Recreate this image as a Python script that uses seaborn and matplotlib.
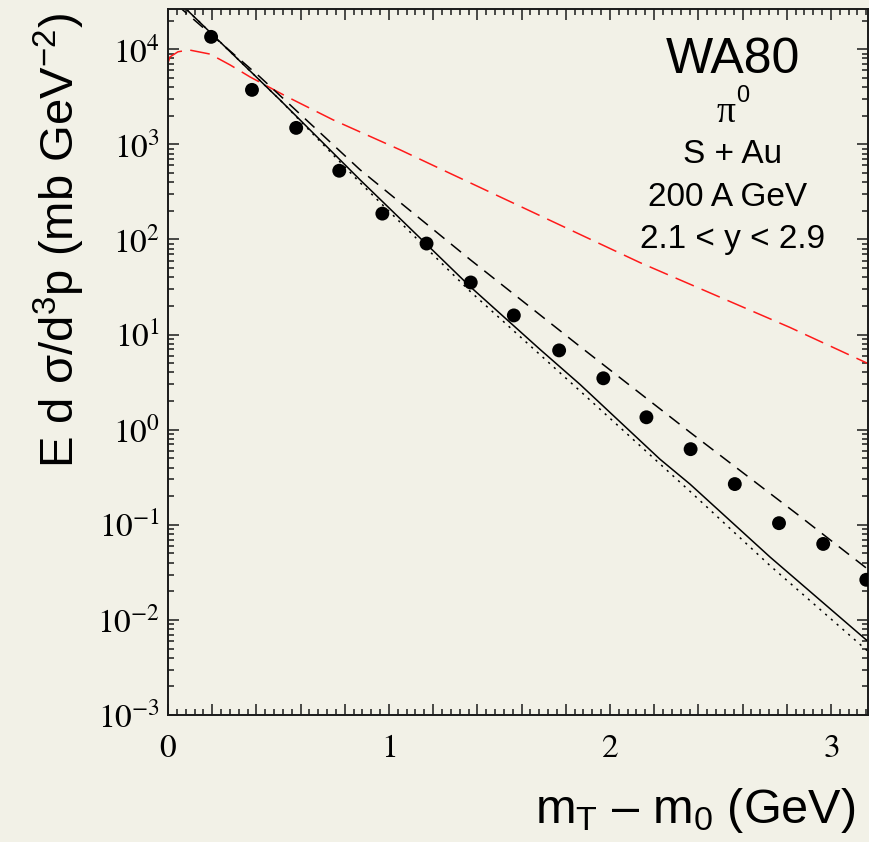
import numpy as np
import pandas as pd
import matplotlib
matplotlib.use("Agg")
import matplotlib.pyplot as plt
import seaborn as sns
from matplotlib.ticker import MultipleLocator, LogLocator, FuncFormatter

# ---- data ----
pt_x = [0.195, 0.38, 0.58, 0.775, 0.97, 1.17, 1.37, 1.565, 1.77, 1.97,
        2.165, 2.365, 2.565, 2.765, 2.965, 3.16]
pt_y = [1.35e4, 3.74e3, 1.49e3, 528, 187, 90.6, 35.3, 15.9, 6.82, 3.47,
        1.35, 0.624, 0.268, 0.104, 0.0629, 0.0264]

solid_x = [0.063, 0.507, 0.869, 1.14, 1.367, 1.683, 1.864, 2.226, 2.362, 2.724, 3.154, 3.18]
solid_y = [2.92e4, 2930, 424, 104, 32.0, 7.0, 3.0, 0.49, 0.268, 0.0459, 0.00633, 0.0057]

dashed_x = [0.041, 0.416, 0.869, 1.367, 1.864, 2.362, 2.846, 3.154, 3.18]
dashed_y = [2.92e4, 5120, 541, 61.5, 7.5, 0.94, 0.13, 0.036, 0.032]

dotted_x = [0.063, 0.507, 0.869, 1.367, 1.864, 2.362, 2.724, 3.154, 3.18]
dotted_y = [2.92e4, 2930, 396, 28.5, 2.56, 0.225, 0.0373, 0.00498, 0.0044]

red_x = [0.0, 0.009, 0.045, 0.095, 0.19, 0.281, 0.371, 0.537, 0.747, 1.05, 1.222,
         2.136, 2.814, 3.154, 3.18]
red_y = [7180, 8300, 9400, 9840, 8900, 6840, 5120, 3180, 1810, 877, 568,
         57.1, 11.9, 5.13, 4.8]

info_lines = ["S + Au", "200 A GeV", "2.1 < y < 2.9"]

# ---- style ----
sns.set_theme(style="ticks")
bg = "#f2f1e7"
plt.rcParams.update({
    "font.family": ["Liberation Sans", "DejaVu Sans"],
    "mathtext.fontset": "stix",
    "mathtext.rm": "Liberation Sans",
    "mathtext.it": "Liberation Sans:italic",
    "mathtext.bf": "Liberation Sans:bold",
    "figure.facecolor": bg,
    "axes.facecolor": bg,
    "savefig.facecolor": bg,
    "axes.edgecolor": "#1a1a1a",
    "axes.linewidth": 1.4,
    "text.color": "black",
    "axes.labelcolor": "black",
    "xtick.color": "#1a1a1a",
    "ytick.color": "#1a1a1a",
    "xtick.labelcolor": "black",
    "ytick.labelcolor": "black",
})

fig = plt.figure(figsize=(8.69, 8.42), dpi=100)
ax = fig.add_axes([168 / 869, 1 - 715 / 842, (868.5 - 168) / 869, (715 - 9) / 842])
ax.set_yscale("log")

lw = 1.1
sns.lineplot(x=red_x, y=red_y, ax=ax, color="#ff1a1a", lw=lw, sort=False,
             estimator=None, linestyle=(0, (13, 5.5)))
sns.lineplot(x=dotted_x, y=dotted_y, ax=ax, color="black", lw=lw, sort=False,
             estimator=None, linestyle=(0, (1.4, 3.6)))
sns.lineplot(x=dashed_x, y=dashed_y, ax=ax, color="black", lw=lw, sort=False,
             estimator=None, linestyle=(0, (8.5, 5.5)))
sns.lineplot(x=solid_x, y=solid_y, ax=ax, color="black", lw=lw, sort=False,
             estimator=None, linestyle="-")
sns.scatterplot(x=pt_x, y=pt_y, ax=ax, s=100, color="black", edgecolor="none",
                zorder=5)

ax.set_xlim(0, 3.17)
ax.set_ylim(1e-3, 2.65e4)

ax.xaxis.set_major_locator(MultipleLocator(0.2))
ax.xaxis.set_minor_locator(MultipleLocator(0.04))
ax.xaxis.set_major_formatter(FuncFormatter(
    lambda v, p: r"$%d$" % int(round(v)) if abs(v - round(v)) < 1e-6 else ""))
ax.yaxis.set_major_locator(LogLocator(base=10, numticks=20))
ax.yaxis.set_minor_locator(LogLocator(base=10, subs=np.arange(2, 10), numticks=20))
ax.yaxis.set_major_formatter(FuncFormatter(
    lambda v, p: r"$10^{%d}$" % int(round(np.log10(v)))))

ax.tick_params(which="both", direction="in", top=True, right=True, width=1.1)
ax.tick_params(which="major", length=8)
ax.tick_params(which="minor", length=4.5)
ax.tick_params(axis="x", which="major", labelsize=24, pad=13)
ax.tick_params(axis="y", which="major", labelsize=24, pad=6)
for s in ax.spines.values():
    s.set_visible(True)

ax.set_ylabel(r"E d σ/d$^{\mathrm{3}}$p (mb GeV$^{\mathrm{-2}}$)",
              fontsize=34, loc="top", math_fontfamily="custom")
ax.yaxis.set_label_coords(-0.116, 0.995)
ax.set_xlabel(r"m$_{\mathrm{T}}$ – m$_{\mathrm{0}}$ (GeV)",
              fontsize=35, loc="right", math_fontfamily="custom")
ax.xaxis.set_label_coords(0.981, -0.100)

# annotation block
def fx(px):
    return px / 869

def fy(py):
    return 1 - py / 842

fig.text(fx(733), fy(73), "WA80", ha="center", va="baseline", fontsize=36)
fig.text(fx(726), fy(122), "π", ha="center", va="baseline", fontsize=27,
         family="Liberation Serif")
fig.text(fx(743), fy(102), "0", ha="center", va="baseline", fontsize=17)
fig.text(fx(733), fy(163), info_lines[0], ha="center", va="baseline", fontsize=24)
fig.text(fx(728), fy(206), info_lines[1], ha="center", va="baseline", fontsize=24)
fig.text(fx(733), fy(248), info_lines[2], ha="center", va="baseline", fontsize=24)

fig.savefig("out.png", dpi=100)
